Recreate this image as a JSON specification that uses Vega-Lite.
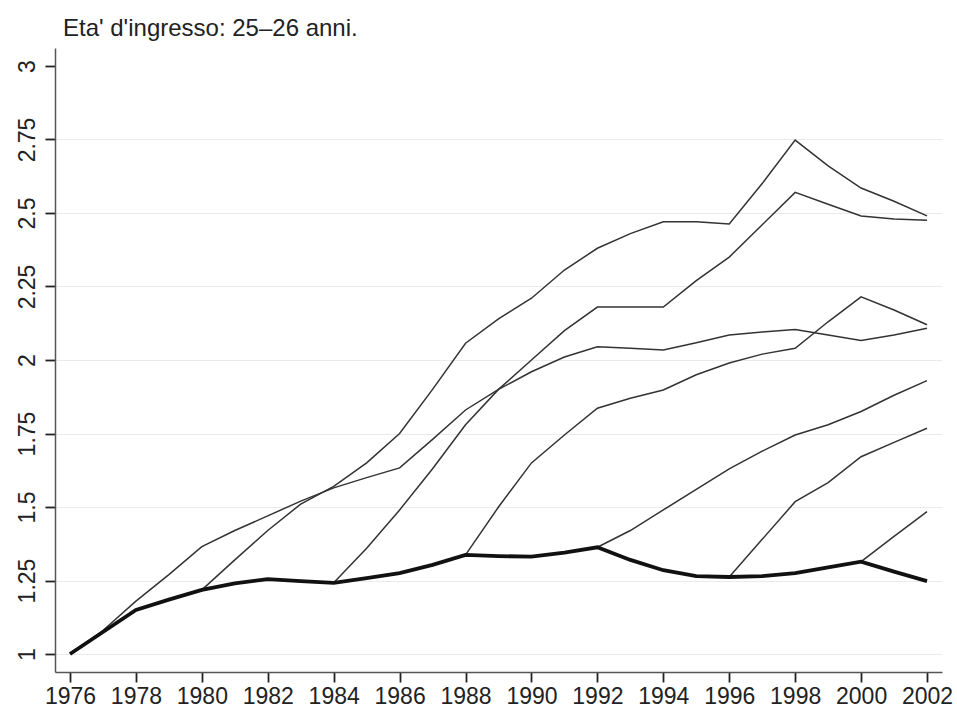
{
  "$schema": "https://vega.github.io/schema/vega-lite/v6.json",
  "width": 887,
  "height": 624,
  "autosize": {"type": "none"},
  "padding": {"left": 55, "top": 48, "right": 15, "bottom": 37},
  "background": "white",
  "title": {"text": "Eta' d'ingresso: 25–26 anni.", "anchor": "start", "frame": "group", "offset": -12, "baseline": "alphabetic", "dx": 8, "fontSize": 24, "font": "Liberation Sans", "fontWeight": "normal", "color": "#222"},
  "config": {
    "view": {"stroke": null},
    "axis": {"labelFont": "Liberation Sans", "labelFontSize": 23, "labelColor": "#222", "domainColor": "#555", "domainWidth": 1.5, "tickColor": "#222", "tickWidth": 1.8, "tickSize": 10, "title": null}
  },
  "data": {"values": [
    {"s": "base", "year": 1976, "v": 1.0}, {"s": "base", "year": 1977, "v": 1.075}, {"s": "base", "year": 1978, "v": 1.15}, {"s": "base", "year": 1979, "v": 1.185}, {"s": "base", "year": 1980, "v": 1.218}, {"s": "base", "year": 1981, "v": 1.24}, {"s": "base", "year": 1982, "v": 1.255}, {"s": "base", "year": 1983, "v": 1.248}, {"s": "base", "year": 1984, "v": 1.242}, {"s": "base", "year": 1985, "v": 1.258}, {"s": "base", "year": 1986, "v": 1.275}, {"s": "base", "year": 1987, "v": 1.303}, {"s": "base", "year": 1988, "v": 1.337}, {"s": "base", "year": 1989, "v": 1.333}, {"s": "base", "year": 1990, "v": 1.331}, {"s": "base", "year": 1991, "v": 1.345}, {"s": "base", "year": 1992, "v": 1.363}, {"s": "base", "year": 1993, "v": 1.32}, {"s": "base", "year": 1994, "v": 1.285}, {"s": "base", "year": 1995, "v": 1.265}, {"s": "base", "year": 1996, "v": 1.262}, {"s": "base", "year": 1997, "v": 1.265}, {"s": "base", "year": 1998, "v": 1.275}, {"s": "base", "year": 1999, "v": 1.295}, {"s": "base", "year": 2000, "v": 1.314}, {"s": "base", "year": 2001, "v": 1.28}, {"s": "base", "year": 2002, "v": 1.248},

    {"s": "c1976", "year": 1976, "v": 1.0}, {"s": "c1976", "year": 1977, "v": 1.08}, {"s": "c1976", "year": 1978, "v": 1.18}, {"s": "c1976", "year": 1979, "v": 1.27}, {"s": "c1976", "year": 1980, "v": 1.365}, {"s": "c1976", "year": 1981, "v": 1.42}, {"s": "c1976", "year": 1982, "v": 1.47}, {"s": "c1976", "year": 1983, "v": 1.52}, {"s": "c1976", "year": 1984, "v": 1.565}, {"s": "c1976", "year": 1985, "v": 1.6}, {"s": "c1976", "year": 1986, "v": 1.633}, {"s": "c1976", "year": 1987, "v": 1.73}, {"s": "c1976", "year": 1988, "v": 1.83}, {"s": "c1976", "year": 1989, "v": 1.9}, {"s": "c1976", "year": 1990, "v": 1.96}, {"s": "c1976", "year": 1991, "v": 2.01}, {"s": "c1976", "year": 1992, "v": 2.045}, {"s": "c1976", "year": 1993, "v": 2.04}, {"s": "c1976", "year": 1994, "v": 2.034}, {"s": "c1976", "year": 1995, "v": 2.059}, {"s": "c1976", "year": 1996, "v": 2.085}, {"s": "c1976", "year": 1997, "v": 2.095}, {"s": "c1976", "year": 1998, "v": 2.104}, {"s": "c1976", "year": 1999, "v": 2.085}, {"s": "c1976", "year": 2000, "v": 2.066}, {"s": "c1976", "year": 2001, "v": 2.085}, {"s": "c1976", "year": 2002, "v": 2.108},

    {"s": "c1980", "year": 1980, "v": 1.218}, {"s": "c1980", "year": 1981, "v": 1.32}, {"s": "c1980", "year": 1982, "v": 1.42}, {"s": "c1980", "year": 1983, "v": 1.51}, {"s": "c1980", "year": 1984, "v": 1.57}, {"s": "c1980", "year": 1985, "v": 1.65}, {"s": "c1980", "year": 1986, "v": 1.75}, {"s": "c1980", "year": 1987, "v": 1.9}, {"s": "c1980", "year": 1988, "v": 2.057}, {"s": "c1980", "year": 1989, "v": 2.14}, {"s": "c1980", "year": 1990, "v": 2.21}, {"s": "c1980", "year": 1991, "v": 2.306}, {"s": "c1980", "year": 1992, "v": 2.38}, {"s": "c1980", "year": 1993, "v": 2.43}, {"s": "c1980", "year": 1994, "v": 2.47}, {"s": "c1980", "year": 1995, "v": 2.47}, {"s": "c1980", "year": 1996, "v": 2.463}, {"s": "c1980", "year": 1997, "v": 2.6}, {"s": "c1980", "year": 1998, "v": 2.748}, {"s": "c1980", "year": 1999, "v": 2.66}, {"s": "c1980", "year": 2000, "v": 2.585}, {"s": "c1980", "year": 2001, "v": 2.54}, {"s": "c1980", "year": 2002, "v": 2.49},

    {"s": "c1984", "year": 1984, "v": 1.242}, {"s": "c1984", "year": 1985, "v": 1.36}, {"s": "c1984", "year": 1986, "v": 1.49}, {"s": "c1984", "year": 1987, "v": 1.63}, {"s": "c1984", "year": 1988, "v": 1.78}, {"s": "c1984", "year": 1989, "v": 1.9}, {"s": "c1984", "year": 1990, "v": 2.0}, {"s": "c1984", "year": 1991, "v": 2.1}, {"s": "c1984", "year": 1992, "v": 2.18}, {"s": "c1984", "year": 1993, "v": 2.18}, {"s": "c1984", "year": 1994, "v": 2.18}, {"s": "c1984", "year": 1995, "v": 2.27}, {"s": "c1984", "year": 1996, "v": 2.35}, {"s": "c1984", "year": 1997, "v": 2.46}, {"s": "c1984", "year": 1998, "v": 2.57}, {"s": "c1984", "year": 1999, "v": 2.53}, {"s": "c1984", "year": 2000, "v": 2.49}, {"s": "c1984", "year": 2001, "v": 2.48}, {"s": "c1984", "year": 2002, "v": 2.475},

    {"s": "c1988", "year": 1988, "v": 1.337}, {"s": "c1988", "year": 1989, "v": 1.5}, {"s": "c1988", "year": 1990, "v": 1.65}, {"s": "c1988", "year": 1991, "v": 1.745}, {"s": "c1988", "year": 1992, "v": 1.836}, {"s": "c1988", "year": 1993, "v": 1.87}, {"s": "c1988", "year": 1994, "v": 1.898}, {"s": "c1988", "year": 1995, "v": 1.95}, {"s": "c1988", "year": 1996, "v": 1.99}, {"s": "c1988", "year": 1997, "v": 2.02}, {"s": "c1988", "year": 1998, "v": 2.04}, {"s": "c1988", "year": 1999, "v": 2.13}, {"s": "c1988", "year": 2000, "v": 2.215}, {"s": "c1988", "year": 2001, "v": 2.17}, {"s": "c1988", "year": 2002, "v": 2.12},

    {"s": "c1992", "year": 1992, "v": 1.363}, {"s": "c1992", "year": 1993, "v": 1.42}, {"s": "c1992", "year": 1994, "v": 1.49}, {"s": "c1992", "year": 1995, "v": 1.56}, {"s": "c1992", "year": 1996, "v": 1.63}, {"s": "c1992", "year": 1997, "v": 1.69}, {"s": "c1992", "year": 1998, "v": 1.745}, {"s": "c1992", "year": 1999, "v": 1.78}, {"s": "c1992", "year": 2000, "v": 1.825}, {"s": "c1992", "year": 2001, "v": 1.88}, {"s": "c1992", "year": 2002, "v": 1.93},

    {"s": "c1996", "year": 1996, "v": 1.262}, {"s": "c1996", "year": 1997, "v": 1.39}, {"s": "c1996", "year": 1998, "v": 1.518}, {"s": "c1996", "year": 1999, "v": 1.583}, {"s": "c1996", "year": 2000, "v": 1.671}, {"s": "c1996", "year": 2001, "v": 1.72}, {"s": "c1996", "year": 2002, "v": 1.768},

    {"s": "c2000", "year": 2000, "v": 1.314}, {"s": "c2000", "year": 2001, "v": 1.4}, {"s": "c2000", "year": 2002, "v": 1.484}
  ]},
  "encoding": {
    "x": {"field": "year", "type": "quantitative",
      "scale": {"domain": [1975.545, 2002.455], "nice": false, "zero": false},
      "axis": {"values": [1976, 1978, 1980, 1982, 1984, 1986, 1988, 1990, 1992, 1994, 1996, 1998, 2000, 2002], "format": "d", "grid": false, "labelPadding": 3, "labelFlush": false, "labelOverlap": false}},
    "y": {"field": "v", "type": "quantitative",
      "scale": {"domain": [0.9388, 3.0612], "nice": false, "zero": false},
      "axis": {"values": [1, 1.25, 1.5, 1.75, 2, 2.25, 2.5, 2.75, 3], "labelExpr": "'' + datum.value", "grid": true,
        "gridColor": {"condition": {"test": "datum.value >= 3", "value": "transparent"}, "value": "#ebebeb"},
        "gridWidth": 1.2, "labelAngle": -90, "labelAlign": "center", "labelBaseline": "bottom", "labelPadding": 6, "labelFlush": false, "labelOverlap": false}}
  },
  "layer": [
    {"transform": [{"filter": "datum.s != 'base'"}],
     "mark": {"type": "line", "strokeWidth": 1.5, "color": "#333"},
     "encoding": {"detail": {"field": "s"}}},
    {"transform": [{"filter": "datum.s == 'base'"}],
     "mark": {"type": "line", "strokeWidth": 3.8, "color": "#111"},
     "encoding": {}}
  ]
}
